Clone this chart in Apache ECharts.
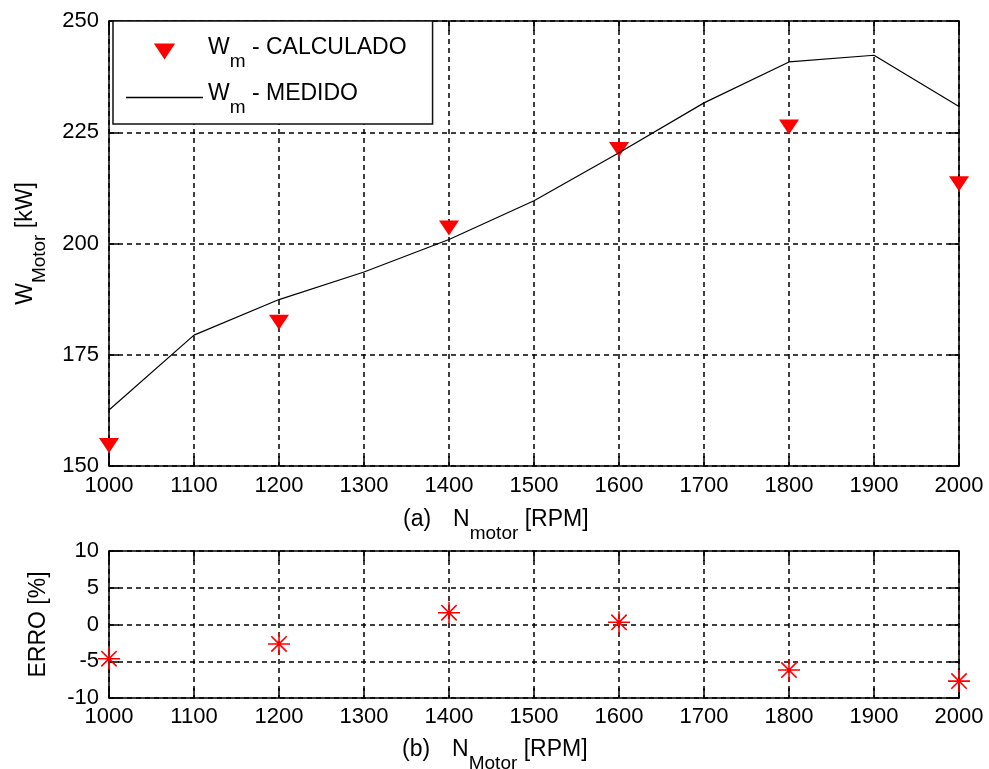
<!DOCTYPE html>
<html>
<head>
<meta charset="utf-8">
<script src="https://cdn.jsdelivr.net/npm/echarts@6/dist/echarts.min.js"></script>
<style>
  html, body { margin: 0; padding: 0; background: #fff; }
  #chart { width: 989px; height: 769px; }
</style>
</head>
<body>
<div id="chart"></div>
<script>
// ---- data ----
const rpmMedido   = [1000, 1100, 1200, 1300, 1400, 1500, 1600, 1700, 1800, 1900, 2000];
const wMedido     = [162.6, 179.4, 187.4, 193.6, 200.9, 209.6, 220.4, 231.6, 240.8, 242.3, 230.8];
const rpmCalc     = [1000, 1200, 1400, 1600, 1800, 2000];
const wCalculado  = [154.6, 182.3, 203.5, 221.1, 226.2, 213.4];
const erroPct     = [-4.65, -2.65, 1.6, 0.3, -6.2, -7.7];
const xRange      = [1000, 2000, 100];
const wRange      = [150, 250, 25];
const erroRange   = [-10, 10, 5];
const seriesNames = ['Wm - CALCULADO', 'Wm - MEDIDO'];

const FONT = '"Liberation Sans", Arial, sans-serif';
const BLACK = '#000';
const RED = '#ff0000';

const richSub = {
  a: { fontSize: 23, fontFamily: FONT, color: BLACK, lineHeight: 26, padding: [6, 0, 14, 0] },
  b: { fontSize: 19, fontFamily: FONT, color: BLACK, lineHeight: 26, padding: [20, 0, 0, 0] },
  g: { fontSize: 23, fontFamily: FONT, color: BLACK, lineHeight: 26, padding: [6, 0, 14, 0], width: 22 }
};

function pair(arrX, arrY) { return arrX.map((x, i) => [x, arrY[i]]); }
const plain = v => String(v);

const axisLineStyle = { color: BLACK, width: 1.5 };
const gridDash = { color: BLACK, width: 1.5, type: [5, 4] };

function xAxisMain(gridIndex, margin) {
  return {
    gridIndex, type: 'value', position: 'bottom',
    min: xRange[0], max: xRange[1], interval: xRange[2],
    axisLine: { show: true, onZero: false, lineStyle: axisLineStyle },
    axisTick: { show: true, inside: true, length: 10, lineStyle: axisLineStyle },
    axisLabel: { color: BLACK, fontSize: 22, fontFamily: FONT, margin, formatter: plain },
    splitLine: { show: true, lineStyle: gridDash }
  };
}
function xAxisTop(gridIndex) {
  return {
    gridIndex, type: 'value', position: 'top',
    min: xRange[0], max: xRange[1], interval: xRange[2],
    axisLine: { show: true, onZero: false, lineStyle: axisLineStyle },
    axisTick: { show: true, inside: true, length: 10, lineStyle: axisLineStyle },
    axisLabel: { show: false },
    splitLine: { show: false }
  };
}
function yAxisMain(gridIndex, range, name, nameGap, rich) {
  const ax = {
    gridIndex, type: 'value', position: 'left',
    min: range[0], max: range[1], interval: range[2],
    axisLine: { show: true, onZero: false, lineStyle: axisLineStyle },
    axisTick: { show: true, inside: true, length: 10, lineStyle: axisLineStyle },
    axisLabel: { color: BLACK, fontSize: 22, fontFamily: FONT, margin: 10, formatter: plain },
    splitLine: { show: true, lineStyle: gridDash },
    name, nameLocation: 'middle', nameRotate: 90, nameGap,
    nameTextStyle: { color: BLACK, fontSize: 23, fontFamily: FONT }
  };
  if (rich) ax.nameTextStyle.rich = rich;
  return ax;
}
function yAxisRight(gridIndex, range) {
  return {
    gridIndex, type: 'value', position: 'right',
    min: range[0], max: range[1], interval: range[2],
    axisLine: { show: true, onZero: false, lineStyle: axisLineStyle },
    axisTick: { show: true, inside: true, length: 10, lineStyle: axisLineStyle },
    axisLabel: { show: false },
    splitLine: { show: false }
  };
}

const chart = echarts.init(document.getElementById('chart'), null, { renderer: 'canvas' });

const option = {
  animation: false,
  backgroundColor: '#fff',
  grid: [
    { left: 109, top: 21, width: 850, height: 445 },
    { left: 109, top: 551, width: 850, height: 147 }
  ],
  xAxis: [
    xAxisMain(0, 9), xAxisTop(0),
    xAxisMain(1, 8), xAxisTop(1)
  ],
  yAxis: [
    yAxisMain(0, wRange, '{a|W}{b|Motor}{a| [kW]}', 61, richSub), yAxisRight(0, wRange),
    yAxisMain(1, erroRange, 'ERRO [%]', 59, null), yAxisRight(1, erroRange)
  ],
  legend: {
    orient: 'vertical',
    left: 113, top: 21,
    padding: [9, 26, 5, 13],
    itemGap: 3,
    itemWidth: 77, itemHeight: 16,
    backgroundColor: '#fff',
    borderColor: '#111', borderWidth: 1.5,
    selectedMode: false,
    data: [
      { name: seriesNames[0], icon: 'path://M0,0L20,0L10,15Z' },
      { name: seriesNames[1], icon: 'path://M0,0L77,0L77,1.3L0,1.3Z' }
    ],
    formatter: function (name) {
      return name === seriesNames[0]
        ? '{a|W}{b|m}{a| - CALCULADO}'
        : '{a|W}{b|m}{a| - MEDIDO}';
    },
    textStyle: { color: BLACK, fontSize: 23, fontFamily: FONT, rich: richSub }
  },
  graphic: [
    {
      type: 'text', left: 403, top: 502, silent: true,
      style: { text: '{a|(a)}{g| }{a|N}{b|motor}{a| [RPM]}', rich: richSub }
    },
    {
      type: 'text', left: 402, top: 732, silent: true,
      style: { text: '{a|(b)}{g| }{a|N}{b|Motor}{a| [RPM]}', rich: richSub }
    }
  ],
  series: [
    {
      name: seriesNames[0], type: 'scatter',
      xAxisIndex: 0, yAxisIndex: 0,
      data: pair(rpmCalc, wCalculado),
      symbol: 'path://M0,0L20,0L10,15Z',
      symbolSize: [20, 15],
      itemStyle: { color: RED, opacity: 1 },
      clip: false, z: 3
    },
    {
      name: seriesNames[1], type: 'line',
      xAxisIndex: 0, yAxisIndex: 0,
      data: pair(rpmMedido, wMedido),
      symbol: 'none', showSymbol: false,
      lineStyle: { color: BLACK, width: 1.2 },
      itemStyle: { color: BLACK },
      z: 4
    },
    {
      name: 'ERRO', type: 'scatter',
      xAxisIndex: 2, yAxisIndex: 2,
      data: pair(rpmCalc, erroPct),
      symbol: 'path://M-10,0L10,0M0,-10L0,10M-7,-7L7,7M-7,7L7,-7',
      symbolSize: 22,
      itemStyle: { color: RED, borderColor: RED, borderWidth: 1.6, opacity: 1 },
      clip: false, z: 3
    }
  ]
};
chart.setOption(option);
</script>
</body>
</html>
